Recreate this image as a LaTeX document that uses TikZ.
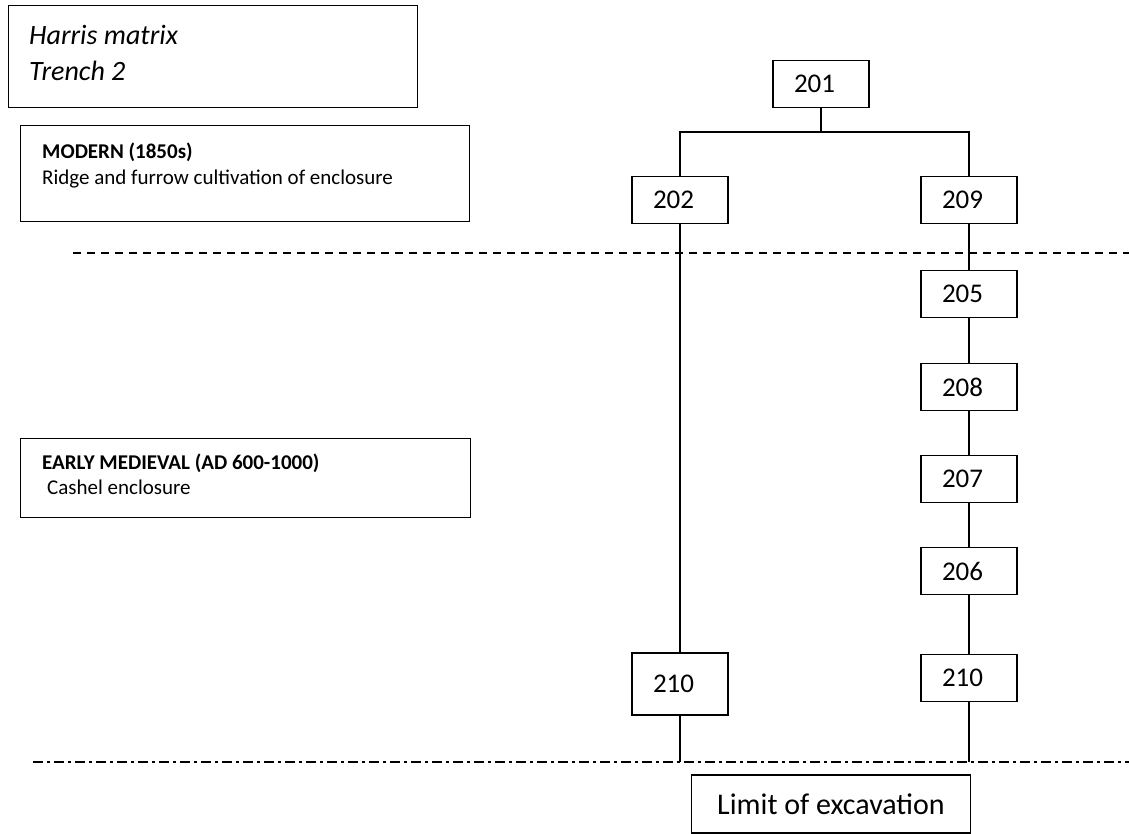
\documentclass[tikz,border=0pt]{standalone}
\usepackage{fontspec}
\setmainfont{Carlito}
\begin{document}
\begin{tikzpicture}[x=1pt,y=-1pt,
  ctx/.style={draw,line width=1.4pt,anchor=north west,inner sep=0pt},
  unit/.style={draw,line width=1.4pt,minimum width=96pt,minimum height=47pt,inner xsep=21pt,inner ysep=0pt,text width=54pt,align=left,font=\fontsize{27}{30}\selectfont},
  conn/.style={line width=1.4pt},
  lbl/.style={anchor=west,inner sep=0pt}]
\useasboundingbox (0,0) rectangle (1129,834);
% context boxes
\node[ctx,minimum width=409pt,minimum height=102pt] (harris) at (8,5) {};
\node[lbl,font=\fontsize{28}{30}\selectfont\itshape] (h1) at (29,35) {Harris matrix};
\node[lbl,font=\fontsize{28}{30}\selectfont\itshape] (h2) at (29,71) {Trench 2};
\node[ctx,minimum width=449pt,minimum height=96pt] (modern) at (20,125) {};
\node[lbl,font=\fontsize{21}{24}\selectfont\bfseries] (m1) at (42,152) {MODERN (1850s)};
\node[lbl,font=\fontsize{21}{24}\selectfont] (m2) at (42,179) {Ridge and furrow cultivation of enclosure};
\node[ctx,minimum width=450pt,minimum height=79pt] (early) at (20,438) {};
\node[lbl,font=\fontsize{21}{24}\selectfont\bfseries] (e1) at (42,463) {EARLY MEDIEVAL (AD 600-1000)};
\node[lbl,font=\fontsize{21}{24}\selectfont] (e2) at (47,487) {Cashel enclosure};
% units
\node[unit] (u201) at (821,84) {201};
\node[unit] (u202) at (680,200) {202};
\node[unit] (u209) at (969,200) {209};
\node[unit] (u205) at (969,294) {205};
\node[unit] (u208) at (969,387) {208};
\node[unit] (u207) at (969,479) {207};
\node[unit] (u206) at (969,571) {206};
\node[unit,minimum height=62pt] (u210a) at (680,684) {210};
\node[unit] (u210b) at (969,678) {210};
\node[draw,line width=1.4pt,minimum width=279pt,minimum height=58pt,inner sep=0pt,font=\fontsize{30}{32}\selectfont] (limit) at (831,804) {Limit of excavation};
% phase lines
\coordinate (d1) at (73,253);
\coordinate (d2) at (1129,253);
\draw[line width=1.4pt,dash pattern=on 8pt off 6pt] (d1) -- (d2);
\coordinate (dd1) at (33,762);
\coordinate (dd2) at (1129,762);
\draw[line width=1.4pt,dash pattern=on 10pt off 4pt on 3pt off 4pt] (dd1) -- (dd2);
% connectors
\coordinate (j) at (821,132);
\draw[conn] (u201.south) -- (j);
\draw[conn] (u202.north) |- (j) -| (u209.north);
\draw[conn] (u202.south) -- (u210a.north);
\draw[conn] (u209.south) -- (u205.north);
\draw[conn] (u205.south) -- (u208.north);
\draw[conn] (u208.south) -- (u207.north);
\draw[conn] (u207.south) -- (u206.north);
\draw[conn] (u206.south) -- (u210b.north);
\coordinate (e210a) at (680,762);
\coordinate (e210b) at (969,762);
\draw[conn] (u210a.south) -- (e210a);
\draw[conn] (u210b.south) -- (e210b);
\end{tikzpicture}
\end{document}
